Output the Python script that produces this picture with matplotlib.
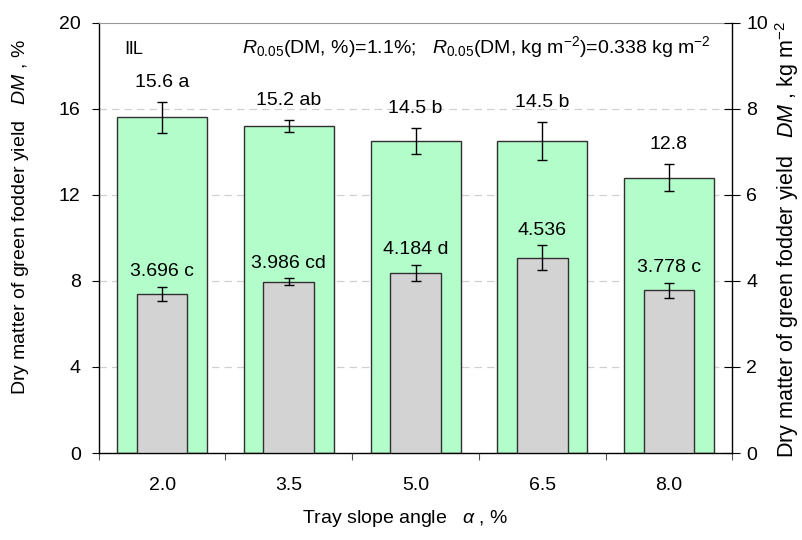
import matplotlib.pyplot as plt
import numpy as np

plt.rcParams['font.family'] = ['Liberation Sans', 'DejaVu Sans']
plt.rcParams['mathtext.fontset'] = 'custom'
plt.rcParams['mathtext.rm'] = 'Liberation Sans'
plt.rcParams['mathtext.it'] = 'Liberation Sans:italic'

# Tray slope angle categories
slopes = ['2.0', '3.5', '5.0', '6.5', '8.0']

# Dry matter content, %
dm_pct = [15.6, 15.2, 14.5, 14.5, 12.8]
dm_pct_err = [0.72, 0.28, 0.60, 0.88, 0.62]
dm_pct_labels = ['15.6 a', '15.2 ab', '14.5 b', '14.5 b', '12.8']

# Dry matter yield, kg m-2
dm_yield = [3.696, 3.986, 4.184, 4.536, 3.778]
dm_yield_err = [0.16, 0.075, 0.18, 0.29, 0.17]
dm_yield_labels = ['3.696 c', '3.986 cd', '4.184 d', '4.536', '3.778 c']

x = np.arange(len(slopes))

fig = plt.figure(figsize=(8.03, 5.40), dpi=100)
ax = fig.add_axes([0.123, 0.161, 0.789, 0.797])
ax2 = ax.twinx()

# green bars on the left scale
ax.bar(x, dm_pct, width=0.71, color='#b3fdcb', edgecolor='#303030', linewidth=1.0, zorder=2)
ax.errorbar(x, dm_pct, yerr=dm_pct_err, fmt='none', ecolor='black', elinewidth=1.0,
            capsize=3.5, capthick=1.0, zorder=3)
for xi, v, e, lab in zip(x, dm_pct, dm_pct_err, dm_pct_labels):
    ax.annotate(lab, (xi, v + e), xytext=(0, 14), textcoords='offset points',
                ha='center', va='center', fontsize=14)

# grey bars on the right scale
ax2.bar(x, dm_yield, width=0.40, color='#d3d3d3', edgecolor='#303030', linewidth=1.0, zorder=2)
ax2.errorbar(x, dm_yield, yerr=dm_yield_err, fmt='none', ecolor='black', elinewidth=1.0,
             capsize=3.5, capthick=1.0, zorder=3)
for xi, v, e, lab in zip(x, dm_yield, dm_yield_err, dm_yield_labels):
    ax2.annotate(lab, (xi, v + e), xytext=(0, 11), textcoords='offset points',
                 ha='center', va='center', fontsize=14)

ax.set_xlim(-0.5, len(slopes) - 0.5)
ax.set_ylim(0, 20)
ax2.set_ylim(0, 10)
ax.set_yticks([0, 4, 8, 12, 16, 20])
ax2.set_yticks([0, 2, 4, 6, 8, 10])

# category ticks sit on bar boundaries, labels centred
ax.set_xticks(np.arange(len(slopes) + 1) - 0.5)
ax.set_xticklabels([])
ax.set_xticks(x, minor=True)
ax.set_xticklabels(slopes, minor=True, fontsize=14)
ax.tick_params(axis='x', which='major', direction='out', length=5, color='#555555')
ax.tick_params(axis='x', which='minor', length=0, pad=17)
ax.tick_params(axis='y', direction='out', length=5, labelsize=14, pad=8)
ax2.tick_params(axis='y', direction='inout', length=12, labelsize=14, pad=4)

for yv in [4, 8, 12, 16]:
    ax.axhline(yv, color='#d0d0d0', linestyle=(0, (6, 4)), linewidth=0.9, zorder=0)

ax.spines['top'].set_color('#999999')
ax2.spines['top'].set_visible(False)
ax2.spines['left'].set_visible(False)
ax2.spines['bottom'].set_visible(False)
for s in ['left', 'bottom']:
    ax.spines[s].set_linewidth(1.0)
ax2.spines['right'].set_linewidth(1.0)
ax.spines['right'].set_visible(False)

fig.text(0.166, 0.908, 'ⅡL', ha='center', va='center', fontsize=13)
fig.text(0.593, 0.912,
         r'$R_{0.05}$(DM, %)=1.1%;   $R_{0.05}$(DM, kg m$^{-2}$)=0.338 kg m$^{-2}$',
         ha='center', va='center', fontsize=14)

fig.text(0.505, 0.040, r'Tray slope angle   $\alpha$ , %', ha='center', va='center', fontsize=14)
fig.text(0.025, 0.598, r'Dry matter of green fodder yield   $DM$ , %', rotation=90,
         ha='center', va='center', fontsize=14)
fig.text(0.980, 0.556, r'Dry matter of green fodder yield   $DM$ , kg m$^{-2}$', rotation=90,
         ha='center', va='center', fontsize=15.5)

fig.savefig('out.png', dpi=100)
